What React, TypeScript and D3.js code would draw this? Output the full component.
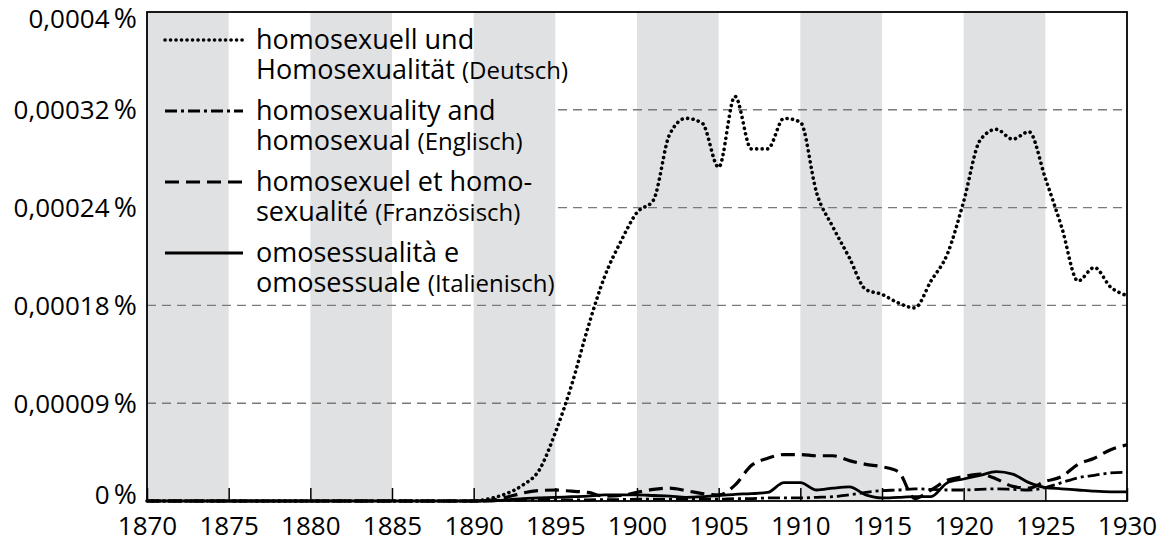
import { useEffect, useRef } from "react";
import * as d3 from "d3";

// values in units of 0.00001 %
const years = d3.range(1870, 1931);

const zeros1870to1890 = [0, 0, 0, 0, 0, 0, 0, 0, 0, 0, 0, 0, 0, 0, 0, 0, 0, 0, 0, 0, 0];

const deutsch = [
  ...zeros1870to1890,
  0.2, 0.6, 1.3, 2.5, 5.6, 9.5, 14.2, 18.3, 21.2, 23.6,
  24.6, 30.0, 31.3, 30.9, 27.3, 33.1, 28.8, 28.8, 31.3, 31.0,
  25.2, 22.4, 19.9, 17.3, 16.9, 16.2, 15.8, 18.0, 20.2, 24.5,
  29.5, 30.4, 29.6, 30.2, 26.4, 22.4, 18.0, 19.1, 17.5, 16.8,
];

const englisch = [
  ...zeros1870to1890,
  0.05, 0.05, 0.08, 0.1, 0.1, 0.1, 0.1, 0.12, 0.12, 0.15,
  0.15, 0.15, 0.15, 0.15, 0.15, 0.2, 0.2, 0.25, 0.25, 0.25,
  0.3, 0.35, 0.5, 0.7, 0.85, 0.9, 1.0, 0.95, 0.9, 0.9,
  0.95, 1.0, 0.95, 0.9, 1.1, 1.5, 1.9, 2.1, 2.3, 2.35,
];

const franzoesisch = [
  ...zeros1870to1890,
  0.05, 0.3, 0.65, 0.85, 0.9, 0.8, 0.7, 0.4, 0.45, 0.7,
  0.95, 1.05, 0.85, 0.6, 0.5, 1.3, 2.9, 3.5, 3.8, 3.8,
  3.7, 3.7, 3.3, 3.0, 2.8, 2.4, 0.2, 0.9, 1.7, 2.0,
  2.2, 1.8, 1.2, 1.05, 1.6, 2.0, 3.0, 3.5, 4.2, 4.6,
];

const italienisch = [
  ...zeros1870to1890,
  0, 0.1, 0.2, 0.25, 0.3, 0.35, 0.4, 0.5, 0.5, 0.5,
  0.45, 0.4, 0.3, 0.35, 0.45, 0.55, 0.6, 0.7, 1.5, 1.5,
  0.9, 1.05, 1.15, 0.5, 0.25, 0.3, 0.35, 0.35, 1.5, 1.8,
  2.1, 2.4, 2.2, 1.5, 1.1, 1.0, 0.9, 0.8, 0.75, 0.75,
];

const xTicks = [1870, 1875, 1880, 1885, 1890, 1895, 1900, 1905, 1910, 1915, 1920, 1925, 1930];
const bandStarts = [1870, 1880, 1890, 1900, 1910, 1920];
const yTicks = [0, 8, 16, 24, 32, 40];
const yTickLabels = ["0", "0,00009", "0,00018", "0,00024", "0,00032", "0,0004"];

const legendLines = [
  ["homosexuell und", "Homosexualität", "(Deutsch)"],
  ["homosexuality and", "homosexual", "(Englisch)"],
  ["homosexuel et homo-", "sexualité", "(Französisch)"],
  ["omosessualità e", "omosessuale", "(Italienisch)"],
];

type Style = { width: number; dash: string | null; cap: string };
const styles: Style[] = [
  { width: 3.6, dash: "0.1 5.4", cap: "round" },
  { width: 2.8, dash: "12 4 3 4", cap: "butt" },
  { width: 3.2, dash: "14 7", cap: "butt" },
  { width: 2.8, dash: null, cap: "butt" },
];
const series = [deutsch, englisch, franzoesisch, italienisch];

const FONT = "'Open Sans', sans-serif";

export default function App() {
  const svgRef = useRef<SVGSVGElement>(null);

  useEffect(() => {
    if (!svgRef.current) return;
    const W = 1169;
    const H = 560;
    const left = 147;
    const right = 1127;
    const top = 12;
    const bottom = 501;
    const legendRight = 558;

    const svg = d3.select(svgRef.current);
    svg.selectAll("*").remove();
    svg.attr("width", W).attr("height", H).attr("viewBox", `0 0 ${W} ${H}`);

    const x = d3.scaleLinear().domain([1870, 1930]).range([left, right]);
    const y = d3.scaleLinear().domain([0, 40]).range([bottom, top]);

    // Shaded 5-year bands
    svg
      .append("g")
      .selectAll("rect")
      .data(bandStarts)
      .join("rect")
      .attr("x", (d) => x(d))
      .attr("y", top)
      .attr("width", (d) => x(d + 5) - x(d))
      .attr("height", bottom - top)
      .attr("fill", "#e0e1e3");

    // Gridlines (the upper two stop at the legend)
    svg
      .append("g")
      .selectAll("line")
      .data(yTicks.filter((d) => d > 0 && d < 40))
      .join("line")
      .attr("x1", (d) => (d > 20 ? legendRight : left))
      .attr("x2", right)
      .attr("y1", (d) => y(d))
      .attr("y2", (d) => y(d))
      .attr("stroke", "#7a7a7a")
      .attr("stroke-width", 1.4)
      .attr("stroke-dasharray", "9 6");

    // Lines, German on top
    const line = d3
      .line<number>()
      .x((_, i) => x(years[i]))
      .y((d) => y(d))
      .curve(d3.curveMonotoneX);

    [3, 1, 2, 0].forEach((k) => {
      const s = styles[k];
      svg
        .append("path")
        .datum(series[k])
        .attr("fill", "none")
        .attr("stroke", "#000")
        .attr("stroke-width", s.width)
        .attr("stroke-linecap", s.cap)
        .attr("stroke-linejoin", "round")
        .attr("stroke-dasharray", s.dash)
        .attr("d", line);
    });

    // X axis ticks (inward) and labels
    svg
      .append("g")
      .attr("transform", `translate(0,${bottom})`)
      .call(d3.axisBottom(x).tickValues(xTicks).tickSize(-13).tickFormat(d3.format("d")))
      .call((axis) => {
        axis.select(".domain").remove();
        axis.selectAll(".tick line").attr("stroke", "#000").attr("stroke-width", 1.5);
        axis
          .selectAll(".tick text")
          .attr("y", 34)
          .attr("dy", 0)
          .attr("font-family", FONT)
          .attr("font-size", 26)
          .attr("fill", "#000");
      });

    // Y labels
    const yl = svg
      .append("g")
      .selectAll("text")
      .data(yTicks)
      .join("text")
      .attr("x", 137)
      .attr("y", (d) => Math.min(Math.max(y(d), top + 7), bottom - 6))
      .attr("dy", "0.36em")
      .attr("text-anchor", "end")
      .attr("font-family", FONT)
      .attr("font-size", 26)
      .attr("fill", "#000");
    yl.append("tspan").text((_, i) => yTickLabels[i] + "\u2009");
    yl.append("tspan").attr("font-size", 28).text("%");

    // Plot frame
    svg
      .append("rect")
      .attr("x", left)
      .attr("y", top)
      .attr("width", right - left)
      .attr("height", bottom - top)
      .attr("fill", "none")
      .attr("stroke", "#000")
      .attr("stroke-width", 1.8);

    // Legend
    const lg = svg.append("g");
    legendLines.forEach((entry, i) => {
      const s = styles[i];
      const ly = 40 + i * 71;
      lg.append("line")
        .attr("x1", 165)
        .attr("x2", 243)
        .attr("y1", ly)
        .attr("y2", ly)
        .attr("stroke", "#000")
        .attr("stroke-width", s.width)
        .attr("stroke-linecap", s.cap)
        .attr("stroke-dasharray", s.dash);
      lg.append("text")
        .attr("x", 256)
        .attr("y", ly + 9)
        .attr("font-family", FONT)
        .attr("font-size", 27)
        .attr("fill", "#000")
        .text(entry[0]);
      const t2 = lg
        .append("text")
        .attr("x", 256)
        .attr("y", ly + 39)
        .attr("font-family", FONT)
        .attr("font-size", 27)
        .attr("fill", "#000");
      t2.append("tspan").text(entry[1] + " ");
      t2.append("tspan").attr("font-size", 24).text(entry[2]);
    });
  }, []);

  return (
    <svg
      ref={svgRef}
      style={{ position: "absolute", left: 0, top: 0, background: "#fff" }}
      role="img"
      aria-label="Relative Häufigkeit von homosexuell/Homosexualität in deutschen, englischen, französischen und italienischen Büchern 1870–1930"
    />
  );
}
